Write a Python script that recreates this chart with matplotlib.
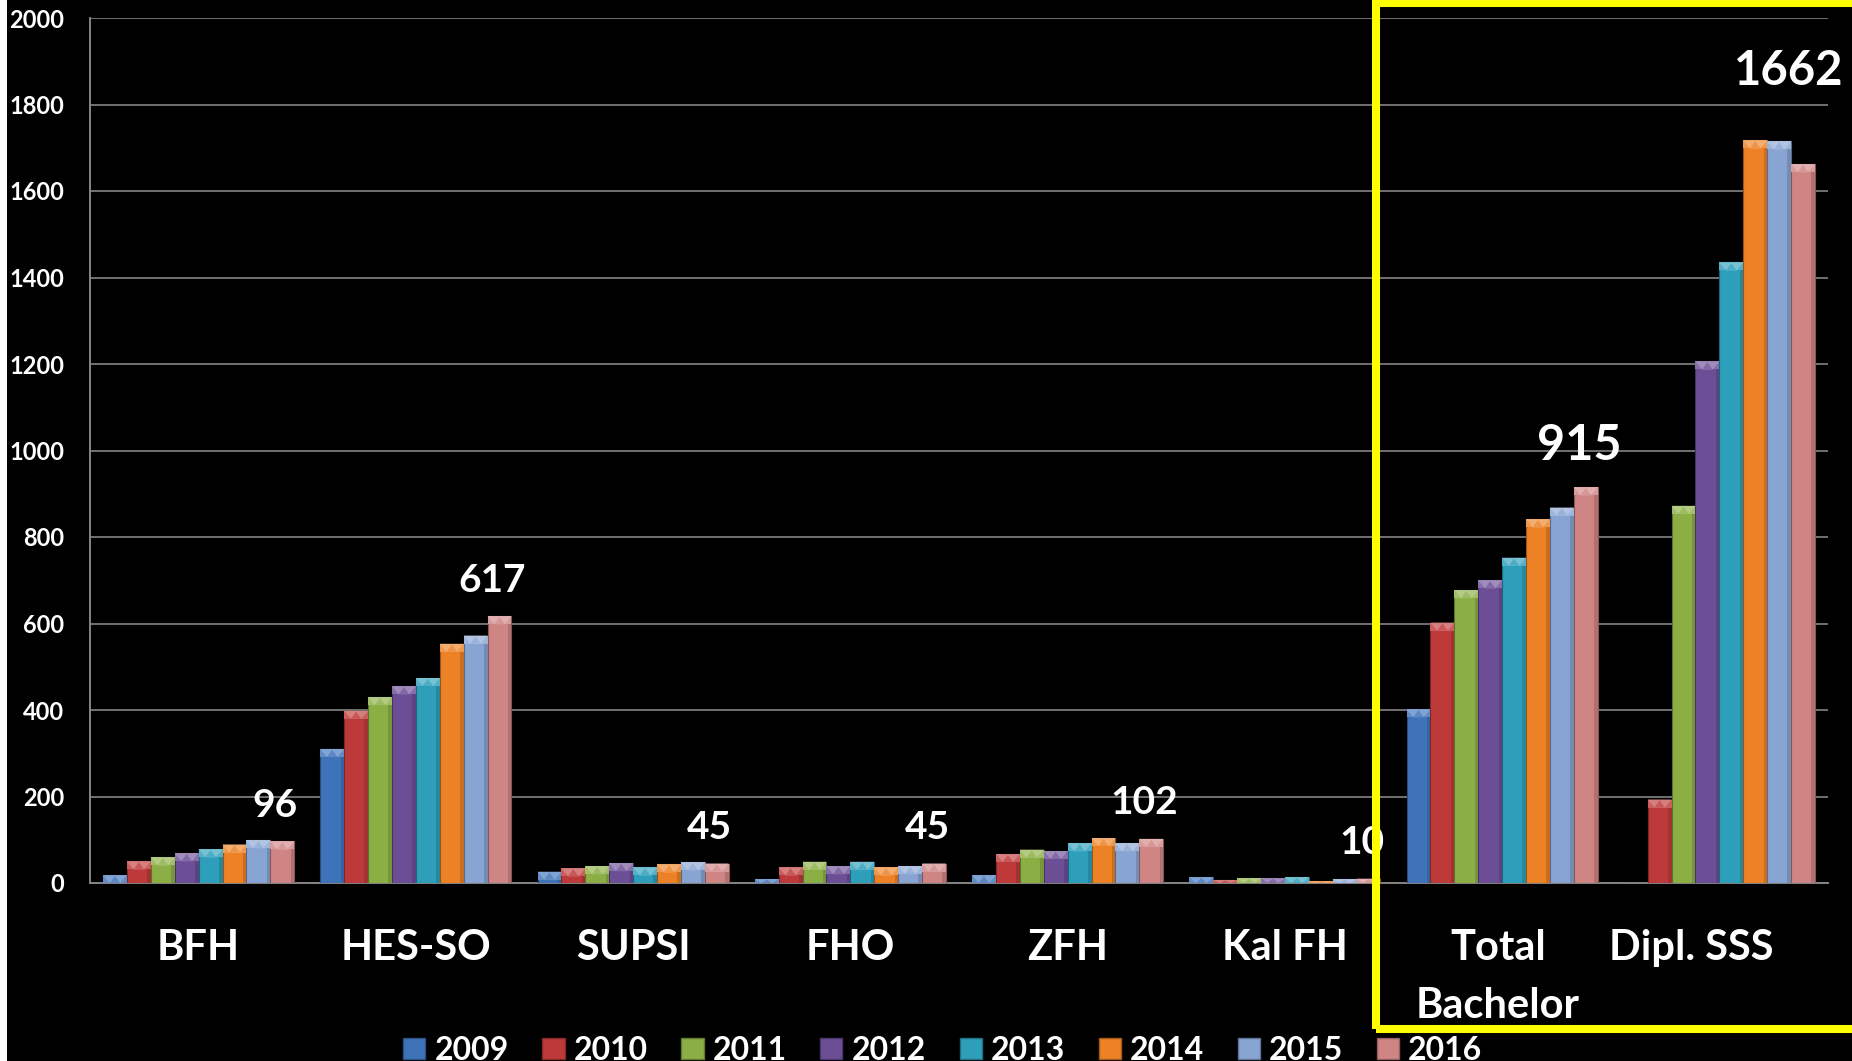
import matplotlib
matplotlib.use("Agg")
import matplotlib.pyplot as plt
import numpy as np
from matplotlib.patches import Rectangle, Polygon, Patch
from matplotlib.colors import to_rgb

plt.rcParams['font.family'] = ['Lato', 'DejaVu Sans']

# ---------------- data ----------------
categories = ["BFH", "HES-SO", "SUPSI", "FHO", "ZFH", "Kal FH", "Total\nBachelor", "Dipl. SSS"]
years = ["2009", "2010", "2011", "2012", "2013", "2014", "2015", "2016"]

v2009 = [18, 310, 26, 9, 18, 13, 402, 0]
v2010 = [50, 398, 34, 36, 67, 7, 602, 193]
v2011 = [59, 430, 39, 49, 77, 11, 677, 872]
v2012 = [69, 455, 46, 39, 74, 11, 700, 1206]
v2013 = [78, 474, 36, 49, 92, 13, 752, 1435]
v2014 = [89, 553, 43, 36, 104, 4, 841, 1717]
v2015 = [99, 572, 48, 39, 92, 9, 868, 1715]
v2016 = [96, 617, 45, 45, 102, 10, 915, 1662]
series = [v2009, v2010, v2011, v2012, v2013, v2014, v2015, v2016]

yticks = [0, 200, 400, 600, 800, 1000, 1200, 1400, 1600, 1800, 2000]

# ---------------- style ----------------
colors = ['#3F73B9', '#BE3A3A', '#8CAF45', '#6C4E97',
          '#2E9FBB', '#EC8125', '#88A4D3', '#D08585']
label_dy_pt = [26, 26, 26, 26, 26, 26, 30, 67]
label_dx_pt = [-5, -5, -5, -5, -5, -5, -5, -10]
label_sizes = [28, 28, 28, 28, 28, 28, 35, 34]
cat_dx = [0, 0, 0, 0, 0, 0, -0.02, -0.13]

W, H = 1852, 1061
fig = plt.figure(figsize=(W / 100, H / 100), dpi=100, facecolor='black')
ax = fig.add_axes([90 / W, 1 - 883 / H, (1828 - 90) / W, (883 - 18) / H])
ax.set_facecolor('black')

n = len(series)
bw = 0.11
x = np.arange(len(categories))

ax.set_xlim(-0.5, len(categories) - 0.5)
ax.set_ylim(0, 2000)

upp = 2000 / 865.0   # data units per vertical pixel
cap_h = 8 * upp


def lighten(c, f):
    r, g, b = to_rgb(c)
    return (r + (1 - r) * f, g + (1 - g) * f, b + (1 - b) * f)


def darken(c, f):
    r, g, b = to_rgb(c)
    return (r * (1 - f), g * (1 - f), b * (1 - f))


for j, (vals, col) in enumerate(zip(series, colors)):
    bars = ax.bar(x + (j - (n - 1) / 2) * bw, vals, width=bw, color=col,
                  edgecolor=darken(col, 0.35), linewidth=0.8, zorder=3)
    for p in bars:
        h = p.get_height()
        if h <= 0:
            continue
        x0, w = p.get_x(), p.get_width()
        ch = min(cap_h, h)
        top = h
        ax.add_patch(Rectangle((x0, top - ch), w, ch, facecolor=lighten(col, 0.18),
                               edgecolor='none', zorder=4))
        inset = w * 0.28
        ax.add_patch(Polygon([(x0, top), (x0 + w, top), (x0 + w - inset, top - ch),
                              (x0 + inset, top - ch)], closed=True,
                             facecolor=lighten(col, 0.35), edgecolor='none', zorder=4))
        ax.add_patch(Polygon([(x0 + inset, top - ch), (x0 + w - inset, top - ch),
                              (x0 + w / 2, top - ch * 0.1)], closed=True,
                             facecolor=lighten(col, 0.15), edgecolor='none', zorder=4))
        ax.add_patch(Rectangle((x0 + w * 0.85, 0), w * 0.15, max(h - ch, 0),
                               facecolor=darken(col, 0.15), edgecolor='none', zorder=4))

# value labels above the 2016 bars
for i, v in enumerate(v2016):
    ax.annotate(f"{v}", xy=(x[i] + (n - 1) / 2 * bw, v),
                xytext=(label_dx_pt[i], label_dy_pt[i]),
                textcoords='offset points', ha='center', va='center',
                color='white', fontsize=label_sizes[i], fontweight='bold', zorder=6)

# axes styling
ax.set_yticks(yticks)
ax.set_yticklabels([str(t) for t in yticks])
ax.tick_params(axis='y', length=0, pad=18.5, labelsize=17, labelcolor='white')
for lab in ax.get_yticklabels():
    lab.set_fontweight('bold')
ax.set_xticks([])
ax.grid(axis='y', color='#858585', linewidth=1.2, zorder=0)
ax.set_axisbelow(True)
for s in ['top', 'right']:
    ax.spines[s].set_visible(False)
for s in ['left', 'bottom']:
    ax.spines[s].set_color('#858585')
    ax.spines[s].set_linewidth(1.4)

# category labels (each line on its own baseline)
trans = ax.get_xaxis_transform()
base_px = 960
line_px = 58
for i, c in enumerate(categories):
    for k, line in enumerate(c.split("\n")):
        yy = (883 - (base_px + k * line_px)) / 865.0
        ax.text(x[i] + cat_dx[i], yy, line, transform=trans, ha='center', va='baseline',
                color='white', fontsize=30, fontweight='bold')

# legend
handles = [Patch(facecolor=c, edgecolor=darken(c, 0.3)) for c in colors]
leg = fig.legend(handles, years, loc='center', bbox_to_anchor=(0.509, 1 - 1050 / H),
                 ncol=8, frameon=False, fontsize=23, handlelength=0.69, handleheight=0.66,
                 handletextpad=0.28, columnspacing=1.06, borderaxespad=0, borderpad=0)
for t in leg.get_texts():
    t.set_color('white')
    t.set_fontweight('bold')

# white strip on the left edge
fig.add_artist(Rectangle((0, 0), 7 / W, 1, transform=fig.transFigure,
                         facecolor='white', edgecolor='none', zorder=0))

# yellow highlight box
fig.add_artist(Rectangle((1376 / W, 1 - 1029 / H), 1.02 - 1376 / W, (1029 - 3) / H,
                         transform=fig.transFigure, facecolor='none',
                         edgecolor='#FFFF00', linewidth=5.8, zorder=10, clip_on=False))

fig.savefig('out.png', dpi=100, facecolor='black')
